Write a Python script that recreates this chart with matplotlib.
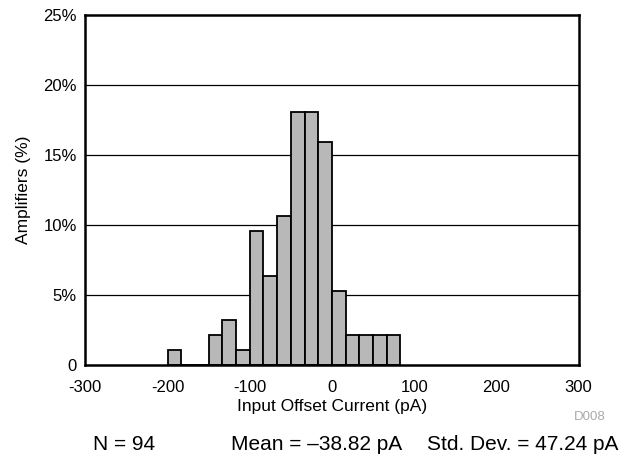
import matplotlib
matplotlib.use("Agg")
import matplotlib.pyplot as plt
from matplotlib.ticker import FuncFormatter

plt.rcParams['font.family'] = ['Liberation Sans', 'DejaVu Sans']
plt.rcParams['axes.unicode_minus'] = False

# histogram bins (left edges, pA) and amplifier counts
bin_left = [-200, -183.33, -166.67, -150, -133.33, -116.67, -100, -83.33,
            -66.67, -50, -33.33, -16.67, 0, 16.67, 33.33, 50, 66.67]
counts = [1, 0, 0, 2, 3, 1, 9, 6, 10, 17, 17, 15, 5, 2, 2, 2, 2]
n_total = 94
bin_width = 50 / 3

x_ticks = [-300, -200, -100, 0, 100, 200, 300]
y_ticks = [0, 5, 10, 15, 20, 25]

pct = [c / n_total * 100 for c in counts]

fig = plt.figure(figsize=(6.19, 4.59), dpi=100)
ax = fig.add_axes([0.1378, 0.2048, 0.797, 0.7625])

for y in y_ticks[1:-1]:
    ax.axhline(y, color='black', lw=0.9, zorder=1)

ax.bar(bin_left, pct, width=bin_width, align='edge', color='#b8b8b8',
       edgecolor='black', linewidth=1.3, zorder=2)

ax.set_xlim(-300, 300)
ax.set_ylim(0, 25)
ax.set_xticks(x_ticks)
ax.set_yticks(y_ticks)
ax.yaxis.set_major_formatter(FuncFormatter(lambda v, p: '0' if v == 0 else '%d%%' % v))
ax.tick_params(length=0, labelsize=12)
ax.tick_params(axis='x', pad=10.5)
ax.tick_params(axis='y', pad=6)
for s in ax.spines.values():
    s.set_linewidth(1.8)

ax.set_xlabel('Input Offset Current (pA)', fontsize=12.5, labelpad=3)
ax.set_ylabel('Amplifiers (%)', fontsize=12.5, labelpad=9)

fig.text(606 / 619, 1 - 417 / 459, 'D008', fontsize=9.5, color='#aaaaaa',
         ha='right', va='center')
fig.text(93 / 619, 1 - 445 / 459, 'N = 94', fontsize=15, ha='left', va='center')
fig.text(231 / 619, 1 - 445 / 459, 'Mean = \u201338.82 pA',
         fontsize=15, ha='left', va='center')
fig.text(618 / 619, 1 - 445 / 459, 'Std. Dev. = 47.24 pA',
         fontsize=15, ha='right', va='center')

fig.savefig('out.png', dpi=100)
